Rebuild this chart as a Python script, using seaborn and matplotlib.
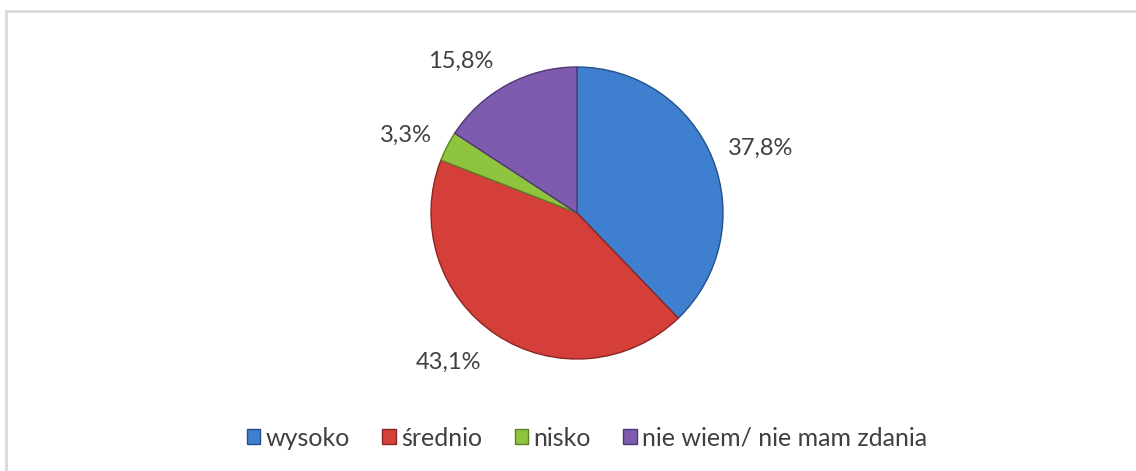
import matplotlib
matplotlib.use("Agg")
import matplotlib.pyplot as plt
import matplotlib.patches as mpatches
import numpy as np
import seaborn as sns

# dane z wykresu
categories = ["wysoko", "średnio", "nisko", "nie wiem/ nie mam zdania"]
values = [37.8, 43.1, 3.3, 15.8]
labels = ["37,8%", "43,1%", "3,3%", "15,8%"]
colors = ["#3f7fd0", "#d43f3a", "#8fc43e", "#7d5bae"]
edges = ["#24508a", "#8a2623", "#5c8226", "#4f3872"]

sns.set_theme(style="white")
plt.rcParams['font.family'] = ['Lato', 'DejaVu Sans']

fig = plt.figure(figsize=(11.36, 4.71), dpi=100)
fig.patch.set_facecolor("white")

# ramka wykresu (widoczna lewa i górna krawędź)
frame = mpatches.Rectangle((6 / 1136, -0.5), 2, 1.5 - 11 / 471,
                           transform=fig.transFigure, fill=False,
                           edgecolor="#d9d9d9", linewidth=2)
fig.patches.append(frame)

cx, cy, r = 577, 213, 146
ax = fig.add_axes([(cx - r) / 1136, 1 - (cy + r) / 471, 2 * r / 1136, 2 * r / 471])
wedges, _ = ax.pie(values, colors=colors, startangle=90, counterclock=False,
                   wedgeprops=dict(linewidth=1.0))
for w, ec in zip(wedges, edges):
    w.set_edgecolor(ec)

# etykiety procentowe (rozmieszczenie jak w Excelu)
label_angles = [19.5, -130.7, 155.6, 127.3]
label_dist = [1.336, 1.345, 1.29, 1.31]
for lab, a, d in zip(labels, label_angles, label_dist):
    t = np.deg2rad(a)
    ax.text(d * np.cos(t), d * np.sin(t), lab, ha="center", va="center",
            fontsize=17, color="#404040")
ax.set_xlim(-1, 1)
ax.set_ylim(-1, 1)
ax.set_aspect("equal")
ax.axis("off")

handles = [mpatches.Patch(facecolor=c, edgecolor=e) for c, e in zip(colors, edges)]
fig.legend(handles, categories, loc="center", bbox_to_anchor=(587 / 1136, 1 - 438 / 471),
           ncol=4, frameon=False, fontsize=18, handlelength=0.55, handleheight=0.55,
           handletextpad=0.2, columnspacing=1.3, labelcolor="#404040")

fig.savefig("out.png", dpi=100, facecolor="white")
